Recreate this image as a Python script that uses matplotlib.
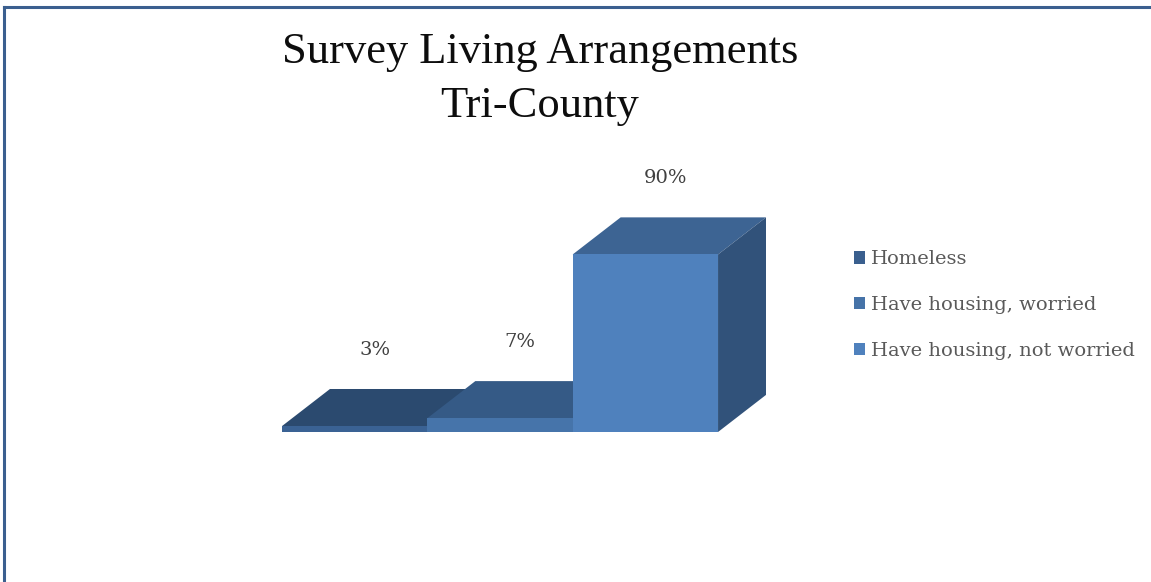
import matplotlib
matplotlib.use('Agg')
import matplotlib.pyplot as plt
from matplotlib.patches import Polygon, Patch
from matplotlib.lines import Line2D

title = 'Survey Living Arrangements\nTri-County'
categories = ['Homeless', 'Have housing, worried', 'Have housing, not worried']
values = [3, 7, 90]
labels = ['3%', '7%', '90%']

front_colors = ['#3a6294', '#4674aa', '#4f81bd']
top_colors = ['#2b4a6f', '#355a86', '#3d6493']
side_colors = ['#233d5c', '#2c4c72', '#31527a']
legend_colors = ['#3a5f8e', '#4673a8', '#4f81bd']

plt.rcParams['font.family'] = ['DejaVu Serif']

W, H = 1151, 582
fig = plt.figure(figsize=(W / 100, H / 100), dpi=100)

# frame lines (left and top)
fig.add_artist(Line2D([4 / W, 4 / W], [0, 1 - 7 / H], color='#3b5f8f', lw=2.2))
fig.add_artist(Line2D([4 / W, 1], [1 - 7 / H, 1 - 7 / H], color='#3b5f8f', lw=2.2))

ax = fig.add_axes([282 / W, (H - 432) / H, 484 / W, 217 / H])
ax.set_xlim(-0.5, 2.83)
ax.set_ylim(0, 110)
ax.axis('off')

dx, dy = 0.33, 18.8  # depth of the fake 3d bars, in data units
width = 1.0

# draw back to front so the front faces sit on top
for i, v in enumerate(values):
    x0, x1 = i - width / 2, i + width / 2
    top = Polygon([(x0, v), (x0 + dx, v + dy), (x1 + dx, v + dy), (x1, v)],
                  closed=True, fc=top_colors[i], ec='none', zorder=1 + i)
    side = Polygon([(x1, 0), (x1 + dx, dy), (x1 + dx, v + dy), (x1, v)],
                   closed=True, fc=side_colors[i], ec='none', zorder=1 + i)
    ax.add_patch(top)
    ax.add_patch(side)
    ax.bar(i, v, width=width, color=front_colors[i], zorder=1.5 + i)
    ax.text(i + 0.14, v + dy + 20, labels[i], ha='center', va='center',
            fontsize=14, color='#404040', zorder=10)

fig.text(540 / W, 1 - 79 / H, title, ha='center', va='center',
         fontsize=32, color='#0d0d0d', linespacing=1.42,
         family='Liberation Serif')

handles = [Patch(fc=c, ec='none') for c in legend_colors]
fig.legend(handles, categories, loc='center left',
           bbox_to_anchor=(836 / W, 1 - 305 / H), frameon=False,
           fontsize=14, handlelength=0.6, handleheight=0.6,
           handletextpad=0.3, labelspacing=1.42, labelcolor='#595959')

fig.savefig('out.png', dpi=100)
